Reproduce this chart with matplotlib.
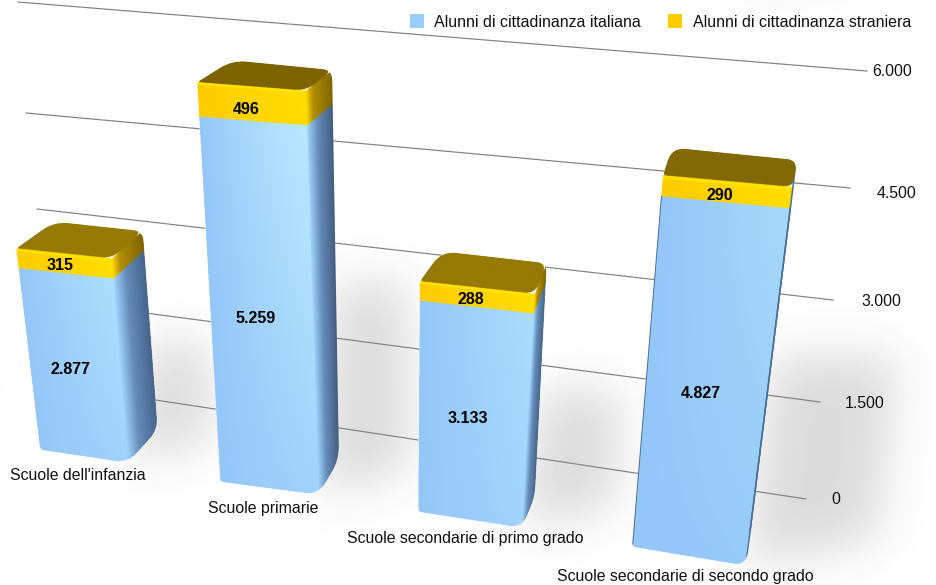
import numpy as np
import matplotlib
matplotlib.use('Agg')
import matplotlib.pyplot as plt
from matplotlib.path import Path
from matplotlib.patches import PathPatch, Polygon

plt.rcParams['font.family'] = ['Liberation Sans', 'DejaVu Sans']

# dati
categorie = ["Scuole dell'infanzia", 'Scuole primarie',
             'Scuole secondarie di primo grado', 'Scuole secondarie di secondo grado']
italiani = [2877, 5259, 3133, 4827]
stranieri = [315, 496, 288, 290]
tacche = [0, 1500, 3000, 4500, 6000]
serie = ['Alunni di cittadinanza italiana', 'Alunni di cittadinanza straniera']

# prospettiva di ogni barra: punto a valore 0 e (pendenza x, scala y) per unita
base_sx = [(40, 450), (220, 482), (418, 512), (632, 547)]
base_dx = [(128, 463), (318, 495), (522, 528), (746, 566)]
base_re = [(158, 430), (339, 460), (535, 497), (751, 530)]
passo_sx = [(-.0075, .0631), (-.0040, .0695), (.0005, .0675), (.0060, .0726)]
passo_dx = [(-.0050, .0640), (-.0022, .0703), (.0038, .0685), (.0092, .0740)]
passo_re = [(-.0047, .0623), (-.0012, .0678), (.0035, .0684), (.0090, .0723)]
fondo = [(38, -27), (35, -22), (22, -30), (9, -28)]
luce = [.5, 1.0, .4, .5]
col_top = [(150, 122, 5), (125, 100, 0), (150, 122, 5), (130, 105, 5)]
scuro = [(70, 100, 140), (65, 90, 125), (70, 100, 135), (60, 90, 130)]
chiaro_dx = [(160, 212, 252), (160, 212, 252), (160, 212, 252), (150, 202, 248)]
largh_ombra = [55, 70, 80, 125]
et_dy = [5, 14, 6, 15]
et2_dy = [2, 6, 3, 4]

# griglia
griglia_sx = [(57, 385), (47, 300), (37, 209), (26, 113), (18, 2)]
griglia_dx = [(806, 499), (820, 402), (833, 300), (850, 188), (867, 71)]
tacca_x = [836, 865, 881, 897, 892]
tacca_y = [499, 403, 302, 193, 72]
cat_x = [10, 208, 347, 557]
cat_y = [475, 508, 539, 577]

fig = plt.figure(figsize=(9.37, 5.85), dpi=100)
ax = fig.add_axes([0, 0, 1, 1])
ax.axis('off')


def pt(base, passo, v):
    return (base[0] + passo[0] * v, base[1] - passo[1] * v)


def arrotonda(punti, raggi):
    vert, cod = [], []
    n = len(punti)
    for i in range(n):
        p = np.array(punti[i], float)
        a = np.array(punti[i - 1], float)
        b = np.array(punti[(i + 1) % n], float)
        r = raggi[i]
        u1 = (a - p) / np.linalg.norm(a - p)
        u2 = (b - p) / np.linalg.norm(b - p)
        vert.append(p + u1 * r)
        cod.append(Path.MOVETO if i == 0 else Path.LINETO)
        vert.append(p)
        cod.append(Path.CURVE3)
        vert.append(p + u2 * r)
        cod.append(Path.CURVE3)
    vert.append(vert[0])
    cod.append(Path.CLOSEPOLY)
    return Path(vert, cod)


def faccia(img, xx, yy, q, stops, colori, hl=0, hl_col=(185, 232, 255)):
    # q = basso sx, basso dx, alto dx, alto sx
    a, b, c, d = [np.array(p, float) for p in q]
    xl = a[0] + (d[0] - a[0]) * (yy - a[1]) / (d[1] - a[1])
    xr = b[0] + (c[0] - b[0]) * (yy - b[1]) / (c[1] - b[1])
    s = np.clip((xx - xl) / (xr - xl), 0, 1)
    col = np.stack([np.interp(s, stops, [k[i] for k in colori]) for i in range(3)], -1)
    if hl > 0:
        yb = a[1] + (b[1] - a[1]) * s
        yt = d[1] + (c[1] - d[1]) * s
        t = np.clip((yb - yy) / (yb - yt), 0, 1)
        f = (hl * s * t)[..., None]
        col = col + (np.array(hl_col) - col) * f
    m = Path(q).contains_points(np.c_[xx.ravel(), yy.ravel()]).reshape(xx.shape)
    img[m] = col[m]


# ombre sul fondo: poligoni sfumati con una gaussiana
gx, gy = np.meshgrid(np.arange(937) + .5, np.arange(585) + .5)
campo = np.zeros(gx.shape)
for i in range(4):
    v = italiani[i] * .5
    r0 = np.array(base_re[i], float)
    r1 = np.array(pt(base_re[i], passo_re[i], v))
    ombra = [base_dx[i], r0 + (largh_ombra[i], 10), r1 + (largh_ombra[i], 0), r1]
    m = Path(ombra).contains_points(np.c_[gx.ravel(), gy.ravel()]).reshape(gx.shape)
    campo[m] = 1
fx = np.fft.fftfreq(937)
fy = np.fft.fftfreq(585)
sigma = 24
filtro = np.exp(-2 * (np.pi * sigma) ** 2 * (fx[None, :] ** 2 + fy[:, None] ** 2))
campo = np.clip(np.fft.ifft2(np.fft.fft2(campo) * filtro).real, 0, 1)
rgba = np.zeros(gx.shape + (4,))
rgba[..., :3] = .25
rgba[..., 3] = campo * .19
ax.imshow(rgba, extent=(0, 937, 585, 0), origin='upper', aspect='auto', zorder=1)

# griglia
for i in range(len(tacche)):
    ax.plot([griglia_sx[i][0], griglia_dx[i][0]], [griglia_sx[i][1], griglia_dx[i][1]],
            color='#808080', lw=.85, zorder=2)
    ax.text(tacca_x[i], tacca_y[i], f'{tacche[i]:,}'.replace(',', '.'), ha='center',
            va='center', fontsize=11.4, color='#111111', zorder=10)

# barre
for i in range(4):
    v1 = italiani[i]
    v2 = italiani[i] + stranieri[i]
    sx = lambda v: pt(base_sx[i], passo_sx[i], v)
    dx = lambda v: pt(base_dx[i], passo_dx[i], v)
    re = lambda v: pt(base_re[i], passo_re[i], v)
    bl = (sx(v2)[0] + fondo[i][0], sx(v2)[1] + fondo[i][1])

    contorno = [base_sx[i], base_dx[i], base_re[i], re(v2), bl, sx(v2)]
    cpath = arrotonda(contorno, [5, 14, 14, 10, 14, 5])
    tutti = np.array(contorno)
    x0, x1 = tutti[:, 0].min() - 2, tutti[:, 0].max() + 2
    y0, y1 = tutti[:, 1].min() - 2, tutti[:, 1].max() + 2
    nx, ny = int((x1 - x0) * 3), int((y1 - y0) * 3)
    xx, yy = np.meshgrid(np.linspace(x0, x1, nx), np.linspace(y0, y1, ny))
    img = np.full((ny, nx, 3), 255.0)

    faccia(img, xx, yy, [base_sx[i], base_dx[i], dx(v1), sx(v1)], [0, 1],
           [(148, 198, 248), chiaro_dx[i]], hl=luce[i])
    faccia(img, xx, yy, [base_dx[i], base_re[i], re(v1), dx(v1)], [0, .4, 1],
           [chiaro_dx[i], (100, 140, 185), scuro[i]])
    faccia(img, xx, yy, [sx(v1), dx(v1), dx(v2), sx(v2)], [0, 1],
           [(255, 204, 0), (255, 222, 0)])
    faccia(img, xx, yy, [dx(v1), re(v1), re(v2), dx(v2)], [0, .25, 1],
           [(255, 214, 0), (175, 140, 0), (125, 100, 0)])
    top = arrotonda([sx(v2), dx(v2), re(v2), bl], [3, 10, 10, 14])
    m = top.contains_points(np.c_[xx.ravel(), yy.ravel()]).reshape(xx.shape)
    img[m] = col_top[i]

    im = ax.imshow(img / 255, extent=(x0, x1, y1, y0), origin='upper', aspect='auto',
                   interpolation='antialiased', zorder=3 + i)
    im.set_clip_path(PathPatch(cpath, transform=ax.transData))

    # bordo lucido tra fronte e coperchio
    ax.plot([sx(v2)[0] + 1, dx(v2)[0] - 3], [sx(v2)[1] + 1.5, dx(v2)[1] + 1.5],
            color='#ffe600', lw=1.6, alpha=.9, zorder=3 + i, solid_capstyle='round')
    if i == 3:
        # la quarta barra e vista quasi di fronte: spigoli scuri sottili, dentro il contorno
        for a, b in [(base_sx[i], sx(v1)), (base_dx[i], dx(v1))]:
            lin, = ax.plot([a[0], b[0]], [a[1], b[1]], color='#4a6f96', lw=1.4, zorder=3 + i)
            lin.set_clip_path(cpath, ax.transData)
        lin, = ax.plot([base_re[i][0], re(v1)[0]], [base_re[i][1], re(v1)[1]], color='#4a6f96',
                       lw=2.2, zorder=3 + i)
        lin.set_clip_path(cpath, ax.transData)

    # etichette
    cx = lambda v: sx(v)[0] + (dx(v)[0] - sx(v)[0]) * .45
    cy = lambda v: sx(v)[1] + (dx(v)[1] - sx(v)[1]) * .45
    ax.text(cx(v1 / 2), cy(v1 / 2) + et_dy[i], f'{v1:,}'.replace(',', '.'), ha='center',
            va='center', fontsize=11.5, fontweight='bold', color='black', zorder=10)
    vm = (v1 + v2) / 2
    ax.text(cx(vm), cy(vm) + et2_dy[i], str(stranieri[i]), ha='center', va='center',
            fontsize=11.5, fontweight='bold', color='black', zorder=10)

    ax.text(cat_x[i], cat_y[i], categorie[i], ha='left', va='center', fontsize=11.4,
            color='#111111', zorder=10)

# legenda
for x_q, x_t, col, nome in zip([410, 668], [434, 693], ['#99ccff', '#ffcc00'], serie):
    ax.add_patch(Polygon([(x_q, 14), (x_q + 14, 14), (x_q + 14, 28), (x_q, 28)], fc=col,
                         ec='none', zorder=10))
    ax.text(x_t, 22.5, nome, ha='left', va='center', fontsize=11.5, color='#111111', zorder=10)

ax.set_xlim(0, 937)
ax.set_ylim(585, 0)
fig.savefig('out.png', dpi=100)
